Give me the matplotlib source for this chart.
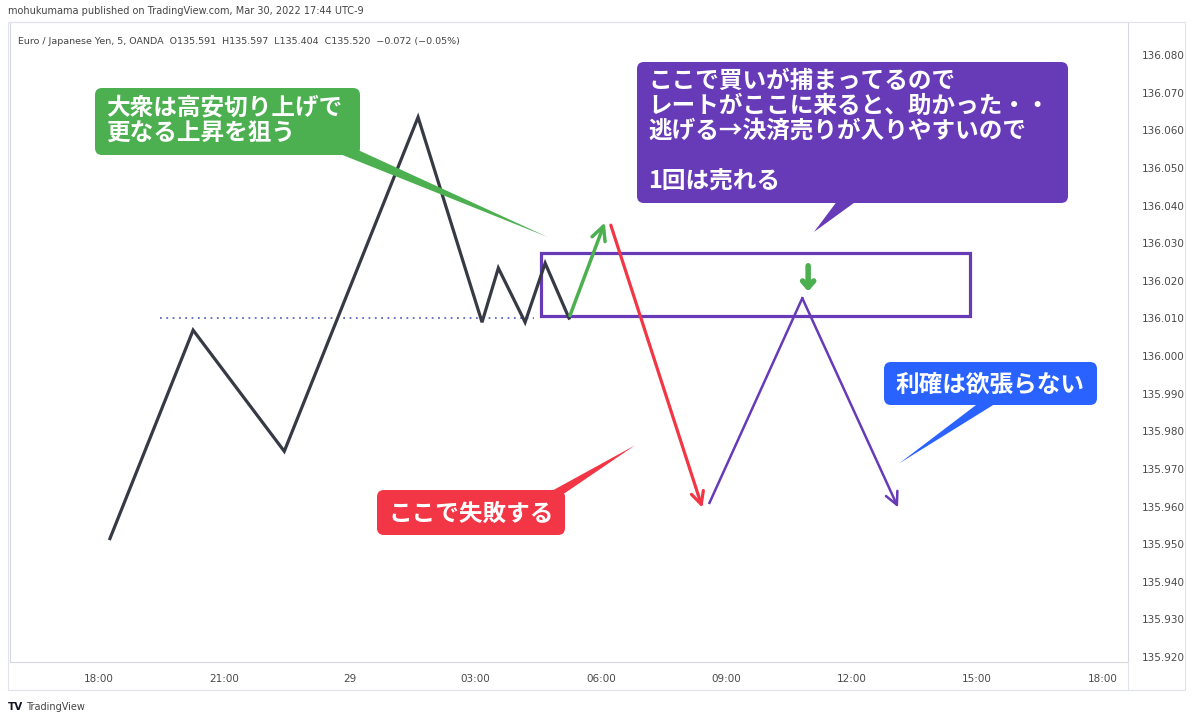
import matplotlib
matplotlib.use("Agg")
import matplotlib.pyplot as plt
import matplotlib.transforms as mtransforms
from matplotlib.patches import FancyBboxPatch, Polygon, Rectangle

plt.rcParams['font.family'] = ['DejaVu Sans']

# price path (hours from 28th 18:00, price)
line_t = [0.26, 2.25, 4.43, 7.63, 9.16, 9.55, 10.19, 10.67, 11.24]
line_p = [135.9515, 136.0069, 135.9747, 136.0635, 136.0090, 136.0234, 136.0090, 136.0247, 136.0101]

up_t = [11.24, 12.12]
up_p = [136.0101, 136.0362]
down_t = [12.22, 14.45]
down_p = [136.0355, 135.9590]
zig_t = [14.60, 16.82, 19.11]
zig_p = [135.9610, 136.0154, 135.9598]

level_t = [1.45, 10.4]
level_p = 136.010

zone_t = [10.57, 20.84]
zone_p = [136.0106, 136.0273]

mark_t = 16.96
mark_p = [136.0240, 136.0172]

xticks = [0, 3, 6, 9, 12, 15, 18, 21, 24]
xlabels = ['18:00', '21:00', '29', '03:00', '06:00', '09:00', '12:00', '15:00', '18:00']
yticks = [135.92 + i * 0.01 for i in range(17)]

green = '#4caf50'
red = '#f23645'
purple = '#673ab7'
blue = '#2962ff'
dark = '#363a45'

W, H = 1193, 715
fig = plt.figure(figsize=(W / 100, H / 100), dpi=100)
ptrans = mtransforms.Affine2D().scale(1 / W, -1 / H).translate(0, 1) + fig.transFigure

ax = fig.add_axes([10 / W, 1 - 662 / H, (1128 - 10) / W, (662 - 22) / H])
ax.set_xlim(-2.13, 24.61)
ax.set_ylim(135.9187, 136.0888)

ax.plot(level_t, [level_p, level_p], color='#5c6bc0', lw=1.3, ls=(0, (1, 2.5)))
ax.plot(line_t, line_p, color=dark, lw=2.3, solid_joinstyle='miter')

ax.add_patch(Rectangle((zone_t[0], zone_p[0]), zone_t[1] - zone_t[0], zone_p[1] - zone_p[0],
                       fill=False, ec=purple, lw=2.3))

ax.annotate('', xy=(up_t[1], up_p[1]), xytext=(up_t[0], up_p[0]),
            arrowprops=dict(arrowstyle='->,head_length=1.0,head_width=0.5', color=green, lw=2.5))
ax.annotate('', xy=(down_t[1], down_p[1]), xytext=(down_t[0], down_p[0]),
            arrowprops=dict(arrowstyle='->,head_length=0.9,head_width=0.45', color=red, lw=2.3))
ax.plot(zig_t[:2], zig_p[:2], color=purple, lw=1.8)
ax.annotate('', xy=(zig_t[2], zig_p[2]), xytext=(zig_t[1], zig_p[1]),
            arrowprops=dict(arrowstyle='->,head_length=0.9,head_width=0.45', color=purple, lw=1.8,
                            shrinkA=0, shrinkB=0))
ax.annotate('', xy=(mark_t, mark_p[1]), xytext=(mark_t, mark_p[0]),
            arrowprops=dict(arrowstyle='->,head_length=0.45,head_width=0.4', color=green, lw=4,
                            shrinkA=0, shrinkB=0))

# axes styling
ax.yaxis.tick_right()
ax.set_yticks(yticks)
ax.set_yticklabels([f'{v:.3f}' for v in yticks])
ax.set_xticks(xticks)
ax.set_xticklabels(xlabels)
ax.tick_params(axis='y', length=0, pad=10, labelsize=7.5, labelcolor='#4a4a4a')
ax.tick_params(axis='x', length=0, pad=9, labelsize=7.5, labelcolor='#4a4a4a')
for s in ax.spines.values():
    s.set_color('#d6d8de')
    s.set_linewidth(0.8)

# outer frame
fig.add_artist(Rectangle((8, 22), 1185 - 8, 690 - 22, transform=ptrans, fill=False,
                         ec='#e0e3eb', lw=0.8))
fig.add_artist(plt.Line2D([1128, 1128], [662, 690], transform=ptrans, color='#e0e3eb', lw=0.8))

fig.text(8, 11, 'mohukumama published on TradingView.com, Mar 30, 2022 17:44 UTC-9',
         transform=ptrans, fontsize=7, color='#444444', va='center')
fig.text(18, 41, 'Euro / Japanese Yen, 5, OANDA  O135.591  H135.597  L135.404  C135.520  \u22120.072 (\u22120.05%)',
         transform=ptrans, fontsize=6.8, color='#444444', va='center')
fig.text(8, 707, 'TV', transform=ptrans, fontsize=7.5, fontweight='bold', color='#131722', va='center')
fig.text(26, 707, 'TradingView', transform=ptrans, fontsize=7, color='#444444', va='center')

cjk = ['Noto Sans CJK JP', 'DejaVu Sans']


def callout(text, box, base, tip_t, tip_p, color, text_pos, ha='left', va='top', ls=1.0):
    x0, y0, x1, y1 = box
    tx, ty = ax.transData.transform((tip_t, tip_p))
    tip = (tx, H - ty)
    fig.add_artist(Polygon([base[0], base[1], tip], closed=True, transform=ptrans,
                           fc=color, ec='none'))
    fig.add_artist(FancyBboxPatch((x0, y0), x1 - x0, y1 - y0, transform=ptrans,
                                  boxstyle='round,pad=0,rounding_size=7', fc=color, ec='none'))
    fig.text(text_pos[0], text_pos[1], text, transform=ptrans, ha=ha, va=va,
             color='white', fontsize=17, fontweight='bold', family=cjk, linespacing=ls)


callout('大衆は高安切り上げで\n更なる上昇を狙う', (95, 88, 360, 155),
        [(330, 150), (358, 150)], 10.74, 136.0316, green, (106, 95), ls=1.12)
callout('ここで買いが捕まってるので\nレートがここに来ると、助かった・・\n逃げる→決済売りが入りやすいので\n\n1回は売れる',
        (637, 62, 1068, 203), [(838, 200), (858, 200)], 17.10, 136.0330, purple, (648, 69), ls=1.05)
callout('ここで失敗する', (377, 490, 565, 535), [(548, 493), (565, 493)],
        12.82, 135.9763, red, (471, 514), ha='center', va='center')
callout('利確は欲張らない', (884, 362, 1097, 405), [(980, 402), (998, 402)],
        19.14, 135.9715, blue, (990, 385), ha='center', va='center')

fig.savefig('out.png', dpi=100, facecolor='white')
